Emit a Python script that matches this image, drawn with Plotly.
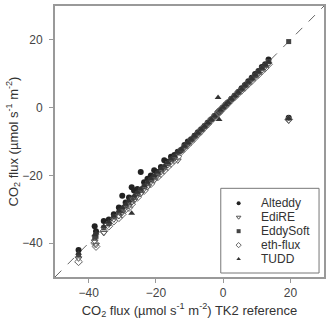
import plotly.graph_objects as go

ref = [-43.0, -38.2, -37.8, -35.5, -34.0, -32.5, -31.0, -30.0, -29.0, -28.0,
       -27.2, -26.5, -25.5, -24.5, -23.5, -22.5, -21.5, -20.5, -19.5, -18.5,
       -17.5, -16.5, -15.5, -14.5, -13.5, -12.5, -11.5, -10.5, -9.5, -8.5,
       -7.5, -6.5, -5.5, -4.5, -3.5, -2.5, -1.5, -1.2, -0.8, 0.0,
       0.8, 1.5, 2.5, 3.5, 4.5, 5.5, 6.5, 7.5, 8.5, 9.5,
       10.5, 11.5, 12.5, 13.5, 19.5]

alteddy = [-42.0, -35.0, -36.5, -33.5, -33.0, -31.5, -29.5, -26.0, -28.0, -26.5,
           -23.5, -24.5, -24.0, -19.0, -22.0, -21.0, -20.0, -18.5, -19.0, -17.5,
           -15.5, -16.0, -14.5, -14.0, -13.0, -12.5, -11.0, -10.0, -9.3, -8.3,
           -7.3, -6.4, -5.4, -4.4, -3.4, -2.4, -1.5, -1.1, -0.7, 0.1,
           0.9, 1.6, 2.6, 3.6, 4.6, 5.7, 6.7, 7.8, 8.8, 9.9,
           10.8, 12.0, 12.8, 14.2, -3.0]

edire = [-44.5, -39.5, -40.5, -37.0, -34.5, -33.0, -32.0, -31.0, -29.5, -29.0,
         -28.0, -27.5, -26.0, -25.5, -24.0, -23.5, -22.0, -21.5, -20.0, -19.0,
         -18.0, -17.0, -16.0, -15.0, -15.6, -12.8, -11.8, -10.9, -9.8, -8.8,
         -7.7, -6.7, -5.7, -4.7, -3.6, -2.6, -1.6, -1.3, -0.9, -0.1,
         0.7, 1.4, 2.4, 3.3, 4.3, 5.3, 6.2, 7.2, 8.2, 9.1,
         10.0, 11.0, 12.0, 13.0, -3.8]

eddysoft = [-43.5, -38.5, -38.0, -35.5, -34.2, -32.3, -31.0, -30.5, -29.0, -28.0,
            -27.0, -26.5, -25.5, -24.3, -23.4, -22.3, -21.4, -20.5, -19.6, -18.4,
            -17.6, -16.5, -15.4, -14.6, -13.4, -12.6, -11.4, -10.5, -9.5, -8.4,
            -7.5, -6.5, -5.5, -4.5, -3.5, -2.5, -1.5, -1.2, -0.8, 0.0,
            0.8, 1.5, 2.5, 3.5, 4.5, 5.5, 6.5, 7.5, 8.5, 9.5,
            10.5, 11.6, 12.5, 13.6, 19.5]

ethflux = [-45.5, -40.0, -41.0, -36.5, -35.0, -33.5, -32.5, -31.5, -30.0, -29.5,
           -28.5, -27.0, -26.5, -25.0, -24.5, -23.0, -22.5, -21.0, -20.5, -19.5,
           -18.5, -17.5, -16.5, -15.5, -14.5, -13.0, -12.0, -11.0, -10.0, -9.0,
           -7.9, -6.9, -5.8, -4.8, -3.7, -2.7, -1.7, -1.4, -1.0, -0.2,
           0.6, 1.3, 2.3, 3.2, 4.2, 5.1, 6.0, 7.0, 7.9, 8.9,
           9.8, 10.8, 11.7, 12.8, -3.5]

tudd = [-43.0, -37.5, -37.0, -35.0, -33.8, -32.0, -30.5, -29.5, -28.5, -27.5,
        -31.2, -26.0, -25.0, -24.0, -23.0, -22.0, -21.0, -20.0, -19.0, -18.0,
        -17.2, -16.2, -15.2, -14.2, -13.2, -12.3, -11.3, -10.3, -9.3, -8.3,
        -7.4, -6.4, -5.4, -4.4, -3.4, -2.4, 3.0, -3.5, -0.7, 0.1,
        0.9, 1.6, 2.6, 3.6, 4.6, 5.6, 6.6, 7.6, 8.6, 9.6,
        10.6, 11.6, 12.6, 13.5, -3.2]

series = [
    ("Alteddy", alteddy, "circle", "#222222", 6),
    ("EdiRE", edire, "triangle-down-open", "#555555", 6),
    ("EddySoft", eddysoft, "square", "#444444", 5),
    ("eth-flux", ethflux, "diamond-open", "#666666", 6),
    ("TUDD", tudd, "triangle-up", "#333333", 6),
]

W, H = 330, 323
ML, MR, MT, MB = 55, 4, 5, 46
PW, PH = W - ML - MR, H - MT - MB


def px_x(p):
    return (p - ML) / PW


def px_y(p):
    return (H - MB - p) / PH


def mk(sym, col, sz):
    return dict(symbol=sym, size=sz, color=col,
                line=dict(width=1, color=col) if "open" in sym else dict(width=0))


fig = go.Figure()
fig.add_trace(go.Scatter(x=[-50, 30], y=[-50, 30], mode="lines",
                         line=dict(color="#666666", width=1, dash="dash"),
                         showlegend=False, hoverinfo="skip"))
for name, ys, sym, col, sz in series:
    fig.add_trace(go.Scatter(x=ref, y=ys, mode="markers", name=name, showlegend=False,
                             marker=mk(sym, col, sz)))

# compact legend box (drawn on an overlay axis in paper-like [0,1] units)
leg_x0, leg_x1, leg_top, leg_bot = 222, 321, 188, 273
entry_y0, entry_dy = 203, 14
sym_x, txt_x = 240, 261
fig.add_shape(type="rect", xref="paper", yref="paper",
              x0=px_x(leg_x0), x1=px_x(leg_x1), y0=px_y(leg_bot), y1=px_y(leg_top),
              line=dict(color="#777777", width=1), fillcolor="white", layer="below")
for i, (name, ys, sym, col, sz) in enumerate(series):
    yy = px_y(entry_y0 + i * entry_dy)
    fig.add_trace(go.Scatter(x=[px_x(sym_x)], y=[yy], xaxis="x2", yaxis="y2",
                             mode="markers", showlegend=False, hoverinfo="skip",
                             marker=mk(sym, col, 4)))
    fig.add_annotation(x=px_x(txt_x), y=yy, xref="paper", yref="paper", text=name,
                       showarrow=False, xanchor="left", yanchor="middle",
                       font=dict(size=12, color="#333333"))

font = dict(family="Arial, Liberation Sans, sans-serif", size=12, color="#333333")
axis_common = dict(range=[-50, 30], tickvals=[-40, -20, 0, 20], ticks="outside",
                   ticklen=4, tickcolor="#999999", showline=True, linecolor="#999999",
                   linewidth=2, mirror=True, showgrid=False, zeroline=False,
                   tickfont=dict(size=12, color="#444444"))
fig.update_layout(
    width=W, height=H,
    margin=dict(l=ML, r=MR, t=MT, b=MB),
    paper_bgcolor="white", plot_bgcolor="white",
    font=font,
    showlegend=False,
    xaxis=dict(title=dict(text="CO<sub>2</sub> flux (µmol s<sup>-1</sup> m<sup>-2</sup>) TK2 reference",
                          font=dict(size=13), standoff=6), **axis_common),
    yaxis=dict(title=dict(text="CO<sub>2</sub> flux (µmol s<sup>-1</sup> m<sup>-2</sup>)",
                          font=dict(size=13), standoff=1), ticklabelstandoff=4, **axis_common),
    xaxis2=dict(range=[0, 1], overlaying="x", visible=False, fixedrange=True),
    yaxis2=dict(range=[0, 1], overlaying="y", visible=False, fixedrange=True),
)
fig.write_html("out.html")
